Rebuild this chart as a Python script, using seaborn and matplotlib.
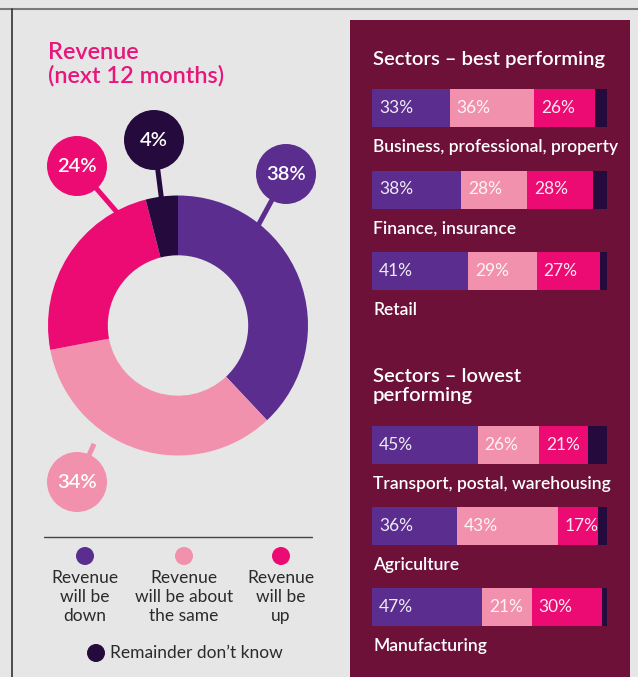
import numpy as np
import pandas as pd
import matplotlib.pyplot as plt
from matplotlib.patches import Circle, Rectangle
import seaborn as sns

# Revenue outlook, next 12 months (%)
rev_labels = ['Revenue\nwill be\ndown', 'Revenue\nwill be about\nthe same', 'Revenue\nwill be\nup']
dk_label = "Remainder don\u2019t know"
rev_values = [38, 34, 24, 4]

# best performing sectors (%)
best_sectors = ['Business, professional, property', 'Finance, insurance', 'Retail']
best_down = [33, 38, 41]
best_same = [36, 28, 29]
best_up = [26, 28, 27]
best_dk = [5, 6, 3]

# lowest performing sectors (%)
low_sectors = ['Transport, postal, warehousing', 'Agriculture', 'Manufacturing']
low_down = [45, 36, 47]
low_same = [26, 43, 21]
low_up = [21, 17, 30]
low_dk = [8, 4, 2]

PURPLE = '#5b2d8e'
PINK_LT = '#f291ad'
PINK = '#ec0b73'
DARK = '#250a3d'
MAROON = '#6d1139'
BG = '#e6e6e6'
TXT = '#2b2b2b'
colors = [PURPLE, PINK_LT, PINK, DARK]

sns.set_theme(style='white')
plt.rcParams['font.family'] = ['Lato', 'DejaVu Sans']

W, H = 638, 677
fig = plt.figure(figsize=(W / 100, H / 100), dpi=100)
fig.patch.set_facecolor(BG)

# background axes in pixel units
bg = fig.add_axes([0, 0, 1, 1], zorder=0)
bg.set_xlim(0, W)
bg.set_ylim(H, 0)
bg.axis('off')
bg.plot([0, W], [9, 9], color='#7a7a7a', lw=1.5)
bg.plot([12, 12], [9, H], color='#333333', lw=1.2)
bg.add_patch(Rectangle((350, 20), 280, H - 20, color=MAROON, lw=0))

# left panel title
bg.text(48, 64, 'Revenue\n(next 12 months)', color='#e8157a', fontsize=16.9,
        fontweight='semibold', va='center', ha='left', linespacing=1.12)

# donut
dax = fig.add_axes([48 / W, (H - 456) / H, 260 / W, 261 / H], zorder=1)
dax.pie(rev_values, colors=colors, startangle=90, counterclock=False, radius=1,
        wedgeprops=dict(width=0.46, linewidth=0))
dax.set_xlim(-1, 1)
dax.set_ylim(-1, 1)
dax.set_aspect('equal')
dax.axis('off')

# callouts: circle centre, point where the stick meets the ring
callouts = [((286, 174), (260, 222)), ((77, 482), (90, 453)),
            ((77, 166), (115, 210)), ((154, 140), (161, 195))]
for (c, e), v, col in zip(callouts, rev_values, colors):
    d = np.array(e) - np.array(c)
    e2 = np.array(e) + d / np.hypot(*d) * 10
    bg.plot([c[0], e2[0]], [c[1], e2[1]], color=col, lw=3.6, solid_capstyle='butt', zorder=2)
    bg.add_patch(Circle(c, 30, color=col, lw=0, zorder=3))
    bg.text(c[0], c[1] + 1, f'{v}%', color='white', fontsize=14.5, fontweight='semibold',
            ha='center', va='center', zorder=4)

# legend
bg.plot([44, 312], [537, 537], color='#444444', lw=1)
for x, lab, col in zip([85, 184, 281], rev_labels, colors[:3]):
    bg.add_patch(Circle((x, 556), 9, color=col, lw=0))
    bg.text(x, 597, lab, color=TXT, fontsize=12.5, ha='center', va='center', linespacing=1.2)
bg.add_patch(Circle((96, 653), 9, color=DARK, lw=0))
bg.text(110, 653, dk_label, color=TXT, fontsize=12.5, ha='left', va='center')

# right panel titles
bg.text(373, 60, 'Sectors \u2013 best performing', color='white', fontsize=14.6,
        fontweight='semibold', va='center')
bg.text(373, 386, 'Sectors \u2013 lowest\nperforming', color='white', fontsize=14.6,
        fontweight='semibold', va='center', linespacing=1.1)


def draw_group(ax, sectors, down, same, up, dk, width):
    df = pd.DataFrame({'sector': sectors, 'down': down, 'same': same, 'up': up, 'dk': dk})
    df['c1'] = df['down']
    df['c2'] = df['c1'] + df['same']
    df['c3'] = df['c2'] + df['up']
    df['c4'] = df['c3'] + df['dk']
    # stacked bars by overlaying cumulative totals
    for col, c in [('c4', DARK), ('c3', PINK), ('c2', PINK_LT), ('c1', PURPLE)]:
        sns.barplot(data=df, x=col, y='sector', color=c, saturation=1, width=width,
                    orient='h', linewidth=0, ax=ax)
    for i, row in df.iterrows():
        for s, v in zip([0, row.c1, row.c2], [row.down, row.same, row.up]):
            ax.annotate(f'{v}%', (s, i), xytext=(5, 0), textcoords='offset points',
                        va='center', ha='left', color='white', fontsize=12.5,
                        fontweight='normal', alpha=0.9)
        ax.annotate(row.sector, (0, i), xytext=(1, -28), textcoords='offset points',
                    va='center', ha='left', color='white', fontsize=12.5,
                    fontweight='semibold')
    ax.set_xlim(0, 100)
    half = width / 2
    ax.set_ylim(len(df) - 1 + half, -half)
    ax.axis('off')


ax1 = fig.add_axes([372 / W, (H - 290) / H, 235 / W, 201 / H], zorder=2)
ax1.patch.set_alpha(0)
draw_group(ax1, best_sectors, best_down, best_same, best_up, best_dk, 38 / 81.5)

ax2 = fig.add_axes([372 / W, (H - 626) / H, 235 / W, 200 / H], zorder=2)
ax2.patch.set_alpha(0)
draw_group(ax2, low_sectors, low_down, low_same, low_up, low_dk, 38 / 81)

fig.savefig('out.png', dpi=100, facecolor=BG)
